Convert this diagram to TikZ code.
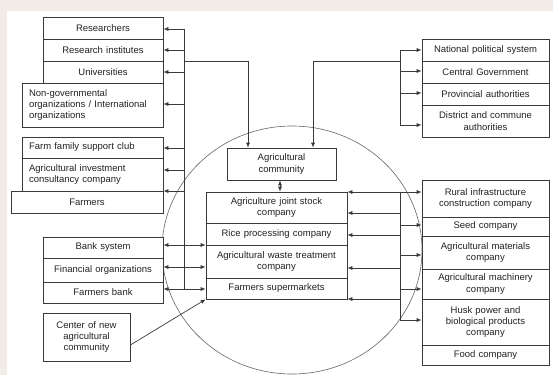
\documentclass[tikz,border=0pt]{standalone}
\usepackage{fontspec}
\setmainfont{Liberation Sans}
\usetikzlibrary{arrows.meta,calc}
\definecolor{bgbeige}{HTML}{F1ECE5}
\definecolor{lncol}{HTML}{3A3A3A}
\definecolor{txtcol}{HTML}{222222}
\newcommand\bx[7][center]{%
  \pgfmathsetmacro\bxw{#5-#3}%
  \pgfmathsetmacro\bxh{#6-#4}%
  \pgfmathsetmacro\bxt{#5-#3-14}%
  \pgfmathsetmacro\bxx{(#3+#5)/2}%
  \pgfmathsetmacro\bxy{(#4+#6)/2}%
  \node[boxs, align=#1, minimum width=\bxw pt, minimum height=\bxh pt, text width=\bxt pt] (#2) at (\bxx,\bxy) {#7};}
\begin{document}
\begin{tikzpicture}[x=1pt,y=-1pt,
  boxs/.style={draw=lncol, fill=white, line width=0.7pt, inner sep=0pt, font=\fontsize{9.5}{11.3}\selectfont, text=txtcol},
  ln/.style={draw=lncol, line width=0.7pt},
  arr/.style={ln, -{Latex[length=5pt,width=4pt]}},
  darr/.style={ln, {Latex[length=5pt,width=4pt]}-{Latex[length=5pt,width=4pt]}}]
\useasboundingbox (0,0) rectangle (553,375);
\fill[bgbeige] (0,0) rectangle (553,375);
\fill[white] (7,11) rectangle (553,375);
% circle
\draw[draw=black!60, line width=0.6pt] (292,250) ellipse [x radius=130pt, y radius=124pt];
% left boxes
\bx{res}{43}{17}{163}{39}{Researchers}
\bx{rin}{43}{39}{163}{61}{Research institutes}
\bx{uni}{43}{61}{163}{83}{Universities}
\bx[left]{ngo}{22}{83}{163}{127}{Non-governmental\\organizations / International\\organizations}
\bx[left]{ffs}{22}{137}{163}{158}{Farm family support club}
\bx[left]{aic}{22}{158}{163}{191}{Agricultural investment\\consultancy company}
\bx{far}{11}{191}{163}{213}{Farmers}
\bx{bank}{43}{237}{163}{258}{Bank system}
\bx{fin}{43}{258}{163}{282}{Financial organizations}
\bx{fbk}{43}{282}{163}{303}{Farmers bank}
\bx{cen}{43}{313}{130}{361}{Center of new\\agricultural\\community}
% center boxes
\bx{acom}{227}{148}{336}{180}{Agricultural\\community}
\bx{ajs}{206}{192}{347}{223}{Agriculture joint stock\\company}
\bx{rice}{206}{223}{347}{245}{Rice processing company}
\bx{waste}{206}{245}{347}{278}{Agricultural waste treatment\\company}
\bx{fsm}{206}{278}{347}{299}{Farmers supermarkets}
% right top boxes
\bx{nps}{422}{39}{549}{61}{National political system}
\bx{cgov}{422}{61}{549}{83}{Central Government}
\bx{prov}{422}{83}{549}{105}{Provincial authorities}
\bx{dist}{422}{105}{549}{137}{District and commune\\authorities}
% right lower boxes
\bx{rural}{422}{180}{549}{217}{Rural infrastructure\\construction company}
\bx{seed}{422}{217}{549}{236}{Seed company}
\bx{mat}{422}{236}{549}{269}{Agricultural materials\\company}
\bx{mach}{422}{269}{549}{299}{Agricultural machinery\\company}
\bx{husk}{422}{299}{549}{345}{Husk power and\\biological products\\company}
\bx{food}{422}{345}{549}{365}{Food company}
% left trunk
\coordinate (lt) at (184,29);
\coordinate (lb) at (184,289);
\draw[ln] (lt) -- (lb);
\foreach \n/\y in {res/29, rin/50, uni/72, ngo/104, ffs/148, aic/170, far/191}{
  \coordinate (tmp) at (184,\y);
  \draw[arr] (tmp) -- (tmp -| \n.east);}
\foreach \a/\b/\y in {bank/rice/245, fin/waste/267, fbk/fsm/289}{
  \coordinate (tmp) at (0,\y);
  \draw[darr] (tmp -| \a.east) -- (tmp -| \b.west);}
% links to agricultural community
\coordinate (j1) at (184,61);
\coordinate (j2) at (248,61);
\draw[arr] (j1) -- (j2) -- (j2 |- acom.north);
\coordinate (rt) at (400,50);
\coordinate (rb) at (400,125);
\coordinate (j3) at (313,61);
\coordinate (j4) at (400,61);
\draw[ln] (rt) -- (rb);
\draw[arr] (j4) -- (j3) -- (j3 |- acom.north);
\foreach \n/\y in {nps/50, cgov/71, prov/93, dist/125}{
  \coordinate (tmp) at (400,\y);
  \draw[arr] (tmp) -- (tmp -| \n.west);}
\coordinate (ac) at (280,180);
\draw[darr] (ac |- acom.south) -- (ac |- ajs.north);
% right lower trunk
\coordinate (rlt) at (400,192);
\coordinate (rlb) at (400,320);
\draw[ln] (rlt) -- (rlb);
\draw[darr] (rlt -| ajs.east) -- (rlt -| rural.west);
\foreach \n/\y in {ajs/213, rice/235, waste/268, fsm/299}{
  \coordinate (tmp) at (400,\y);
  \draw[arr] (tmp) -- (tmp -| \n.east);}
\foreach \n/\y in {seed/225, mat/255, mach/289, husk/320}{
  \coordinate (tmp) at (400,\y);
  \draw[arr] (tmp) -- (tmp -| \n.west);}
% center of new agricultural community
\draw[arr] ($(cen.east)+(0,8)$) -- (fsm.south west);
\end{tikzpicture}
\end{document}
